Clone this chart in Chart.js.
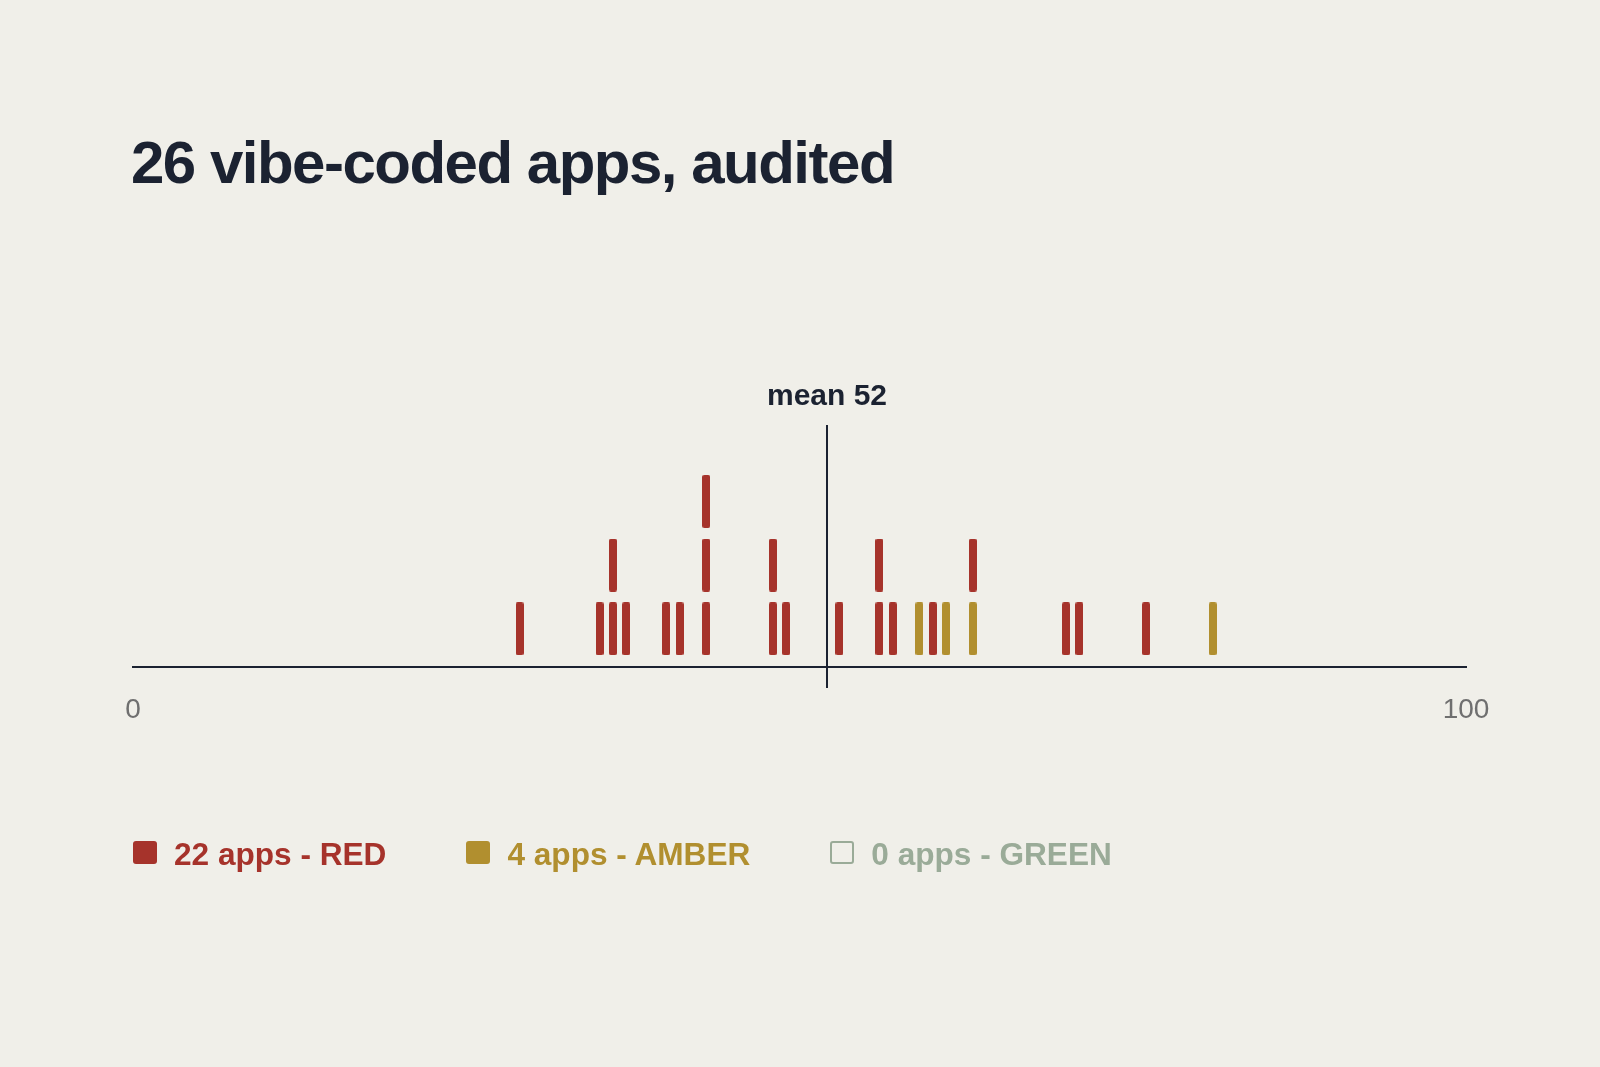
<!DOCTYPE html>
<html lang="en">
<head>
    <meta charset="UTF-8">
    <title>26 vibe-coded apps, audited</title>
    <script src="https://cdn.jsdelivr.net/npm/chart.js@4.4.1/dist/chart.umd.min.js"></script>
    <style>
        html, body { margin: 0; padding: 0; background: #f0efe9; }
        body { width: 1600px; height: 1067px; position: relative; overflow: hidden;
               font-family: "Liberation Sans", Arial, sans-serif; }
        #chart { position: absolute; left: 0; top: 0; }
        h1 { position: absolute; left: 131px; top: 133px; margin: 0; font-size: 60px; line-height: 1;
             font-weight: 700; letter-spacing: -1.5px; color: #1b2231; white-space: nowrap; }
        .legend { position: absolute; left: 133px; top: 839px; display: flex; gap: 80px; }
        .item { display: flex; align-items: center; gap: 17px; font-size: 31.6px; line-height: 1;
                font-weight: 700; white-space: nowrap; }
        .swatch { width: 24px; height: 23px; border-radius: 3px; box-sizing: border-box;
                  position: relative; top: -2px; }
    </style>
</head>
<body>
    <canvas id="chart" width="1600" height="1067"></canvas>
    <h1>26 vibe-coded apps, audited</h1>
    <div class="legend" id="legend"></div>

    <script>
        // audit scores
        const RED_SCORES = [29, 35, 36, 36, 37, 40, 41, 43, 43, 43, 48, 48, 49, 53, 56, 56, 57, 60, 63, 70, 71, 76];
        const AMBER_SCORES = [59, 61, 63, 81];
        const GREEN_SCORES = [];
        const X_TICKS = [0, 100];

        const RED = '#a6332b';
        const AMBER = '#b18f2f';
        const GREEN = '#9aab98';
        const INK = '#1b2231';

        const allScores = RED_SCORES.concat(AMBER_SCORES, GREEN_SCORES);
        const mean = allScores.reduce((a, b) => a + b, 0) / allScores.length;

        // stack equal scores on top of each other, amber first
        const levels = {};
        function stack(scores) {
            return scores.map(v => {
                const lvl = levels[v] || 0;
                levels[v] = lvl + 1;
                return { x: v, y: lvl + 0.6 };
            });
        }
        const amberPts = stack(AMBER_SCORES);
        const redPts = stack(RED_SCORES);
        const greenPts = stack(GREEN_SCORES);

        function tickMark(color) {
            const c = document.createElement('canvas');
            c.width = 8;
            c.height = 53;
            const ctx = c.getContext('2d');
            ctx.fillStyle = color;
            ctx.beginPath();
            ctx.roundRect(0, 0, 8, 53, 2);
            ctx.fill();
            return c;
        }

        const meanLine = {
            id: 'meanLine',
            afterDatasetsDraw(chart) {
                const { ctx, chartArea, scales } = chart;
                const x = Math.round(scales.x.getPixelForValue(mean));
                ctx.save();
                ctx.strokeStyle = INK;
                ctx.lineWidth = 2;
                ctx.beginPath();
                ctx.moveTo(x, chartArea.top);
                ctx.lineTo(x, chartArea.bottom + 21);
                ctx.stroke();
                ctx.fillStyle = INK;
                ctx.font = 'bold 30px "Liberation Sans", Arial, sans-serif';
                ctx.textAlign = 'center';
                ctx.textBaseline = 'alphabetic';
                ctx.fillText('mean ' + Math.round(mean), x, chartArea.top - 20);
                ctx.restore();
            }
        };

        new Chart(document.getElementById('chart'), {
            type: 'scatter',
            data: {
                datasets: [
                    { label: 'RED', data: redPts, pointStyle: tickMark(RED), pointRadius: 4 },
                    { label: 'AMBER', data: amberPts, pointStyle: tickMark(AMBER), pointRadius: 4 },
                    { label: 'GREEN', data: greenPts, pointStyle: tickMark(GREEN), pointRadius: 4 }
                ]
            },
            options: {
                responsive: false,
                devicePixelRatio: 1,
                animation: false,
                events: [],
                layout: { padding: { left: 133, right: 134, top: 425, bottom: 339 } },
                plugins: { legend: { display: false }, tooltip: { enabled: false } },
                scales: {
                    x: {
                        type: 'linear',
                        min: 0,
                        max: 100,
                        afterBuildTicks: s => { s.ticks = X_TICKS.map(v => ({ value: v })); },
                        afterFit: s => { s.height = 61; },
                        grid: { display: false, drawTicks: false },
                        border: { display: true, color: INK, width: 2 },
                        ticks: {
                            color: '#6f6f6f',
                            padding: 26,
                            maxRotation: 0,
                            autoSkip: false,
                            font: { family: '"Liberation Sans", Arial, sans-serif', size: 28 }
                        }
                    },
                    y: { display: false, min: 0, max: 3.8 }
                }
            },
            plugins: [meanLine]
        });

        // html legend
        const legendItems = [
            { n: RED_SCORES.length, name: 'RED', color: RED, filled: true },
            { n: AMBER_SCORES.length, name: 'AMBER', color: AMBER, filled: true },
            { n: GREEN_SCORES.length, name: 'GREEN', color: GREEN, filled: false }
        ];
        const legend = document.getElementById('legend');
        legendItems.forEach(it => {
            const el = document.createElement('div');
            el.className = 'item';
            el.style.color = it.color;
            const sw = document.createElement('span');
            sw.className = 'swatch';
            if (it.filled) sw.style.background = it.color;
            else sw.style.border = '2px solid ' + it.color;
            el.appendChild(sw);
            el.appendChild(document.createTextNode(it.n + ' apps - ' + it.name));
            legend.appendChild(el);
        });
    </script>
</body>
</html>
